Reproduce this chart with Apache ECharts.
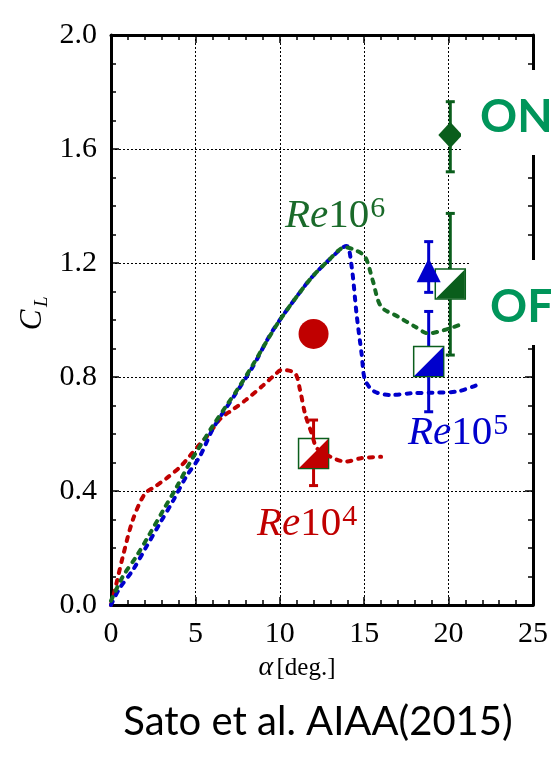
<!DOCTYPE html>
<html>
<head>
<meta charset="utf-8">
<script src="https://cdn.jsdelivr.net/npm/echarts@6/dist/echarts.min.js"></script>
<style>
  html, body { margin: 0; padding: 0; background: #fff; }
  #main { width: 551px; height: 759px; }
</style>
</head>
<body>
<div id="main"></div>
<script>
// Re 1e4 (red dashed)
var alpha4 = [0, 0.3, 0.7, 1.3, 2.0, 2.6, 3.3, 4.1, 4.7, 5.2, 5.8, 6.5, 7.2, 8.0, 9.0, 9.75, 10.1, 10.9, 11.2, 11.5, 11.9, 12.2, 13.0, 13.9, 14.8, 16.0];
var cl4    = [0, 0.07, 0.17, 0.30, 0.39, 0.415, 0.445, 0.485, 0.525, 0.56, 0.60, 0.655, 0.685, 0.72, 0.77, 0.81, 0.825, 0.813, 0.754, 0.67, 0.60, 0.55, 0.52, 0.503, 0.515, 0.52];
// Re 1e5 (blue dashed)
var alpha5 = [0, 0.5, 1.3, 2.1, 2.9, 3.7, 4.45, 5.25, 6.0, 6.6, 7.4, 8.4, 9.35, 10.0, 11.1, 11.9, 12.9, 13.95, 14.25, 14.55, 14.85, 15.05, 15.6, 16.6, 17.8, 19.0, 20.5, 21.7];
var cl5    = [0, 0.058, 0.123, 0.205, 0.287, 0.368, 0.45, 0.52, 0.614, 0.672, 0.743, 0.836, 0.94, 1.0, 1.09, 1.15, 1.21, 1.26, 1.19, 1.02, 0.88, 0.79, 0.749, 0.737, 0.743, 0.745, 0.749, 0.772];
// Re 1e6 (green dashed)
var alpha6 = [0, 0.7, 1.5, 2.3, 3.1, 3.9, 4.65, 5.25, 6.0, 6.8, 7.6, 8.4, 9.15, 9.95, 11.1, 11.9, 12.9, 13.85, 14.45, 15.05, 15.5, 16.0, 17.0, 18.0, 18.8, 19.75, 20.9];
var cl6    = [0.015, 0.10, 0.17, 0.25, 0.333, 0.415, 0.497, 0.555, 0.626, 0.696, 0.766, 0.842, 0.918, 0.995, 1.09, 1.15, 1.21, 1.255, 1.246, 1.222, 1.14, 1.047, 1.012, 0.977, 0.953, 0.965, 0.988];

// experiment points
var redCircle   = [[12.0, 0.951]];
var halfSquares = [[12.0, 0.532, 0], [18.82, 0.854, 1], [20.1, 1.126, 2]];
var triangleBlue = [[18.82, 1.175]];
var diamondGreen = [[20.1, 1.649]];
// error bars: alpha, low, high, colour index
var errBars = [
  [12.0, 0.419, 0.649, 0],
  [18.82, 1.097, 1.275, 1],
  [18.82, 0.678, 1.03, 1],
  [20.1, 1.52, 1.766, 2],
  [20.1, 0.877, 1.374, 2]
];

var RED = '#c00000', BLUE = '#0000cc', GREEN = '#0a5e1c';
var COLORS = [RED, BLUE, GREEN];
var BORDERS = ['#e06060', '#6060ff', '#4a8a5a'];

function zip(a, b) {
  return a.map(function (v, i) { return [v, b[i]]; });
}

var chart = echarts.init(document.getElementById('main'));

var serif = '"Liberation Serif"';
function frameAxis(pos, isX, labels) {
  var ax = {
    type: 'value',
    position: pos,
    min: 0,
    max: isX ? 25 : 2.0,
    interval: isX ? 5 : 0.4,
    axisLine: { show: true, onZero: false, lineStyle: { color: '#000', width: 3 } },
    axisTick: { show: true, inside: true, length: 8, lineStyle: { color: '#000', width: 1.5 } },
    minorTick: { show: true, splitNumber: isX ? 5 : 4, length: 5, lineStyle: { color: '#000', width: 1.5 } },
    axisLabel: {
      show: labels,
      color: '#000',
      fontFamily: 'Liberation Serif',
      fontSize: 30,
      margin: 14,
      formatter: isX ? function (v) { return String(v); } : function (v) { return v.toFixed(1); }
    },
    splitLine: { show: labels, lineStyle: { color: '#000', width: 1, type: [2, 2] } }
  };
  return ax;
}

var lineStyleOf = function (c) {
  return { color: c, width: 4, type: [4, 7], cap: 'round' };
};

// measure text so the superscript sits right after "Re10"
var mctx = document.createElement('canvas').getContext('2d');
function textW(font, s) { mctx.font = font; return mctx.measureText(s).width; }

function reLabel(x, y, sup, color) {
  var fi = 'italic 41px ' + serif, fn = '41px ' + serif;
  var w = textW(fi, 'Re') + textW(fn, '10');
  return [
    { type: 'text', z: 101, x: x, y: y, style: { text: 'Re', font: fi, fill: color, verticalAlign: 'middle' } },
    { type: 'text', z: 101, x: x + textW(fi, 'Re'), y: y, style: { text: '10', font: fn, fill: color, verticalAlign: 'middle' } },
    { type: 'text', z: 101, x: x + w + 1, y: y - 7, style: { text: sup, font: '30px ' + serif, fill: color, verticalAlign: 'middle' } }
  ];
}

var graphics = [
  // white boxes behind ON / OFF
  { type: 'rect', z: 100, shape: { x: 461, y: 70, width: 90, height: 85 }, style: { fill: '#fff' } },
  { type: 'rect', z: 100, shape: { x: 471, y: 260, width: 80, height: 85 }, style: { fill: '#fff' } },
  { type: 'text', z: 101, left: 480, top: 94, style: { text: 'ON', fill: '#00955a', font: 'bold 46px Lato' } },
  { type: 'text', z: 101, left: 490, top: 284, style: { text: 'OFF', fill: '#00955a', font: 'bold 46px Lato' } },
  // axis names
  { type: 'text', z: 101, x: 297, y: 668, style: { text: '{a|\u03b1} {n|[deg.]}', align: 'center', verticalAlign: 'middle', rich: {
    a: { font: 'italic 28px ' + serif, fill: '#000' },
    n: { font: '25px ' + serif, fill: '#000' } } } },
  {
    type: 'group', x: 33, y: 320, rotation: Math.PI / 2, z: 101,
    children: [
      { type: 'text', x: 0, y: 0, style: { text: 'C', font: 'italic 31px ' + serif, fill: '#000', align: 'center', verticalAlign: 'middle' } },
      { type: 'text', x: 13, y: 9, style: { text: 'L', font: 'italic 19px ' + serif, fill: '#000', align: 'left', verticalAlign: 'middle' } }
    ]
  },
  // citation
  { type: 'text', z: 101, x: 318, y: 722, style: { text: 'Sato et al. AIAA(2015)', font: '40px Lato', fill: '#000', align: 'center', verticalAlign: 'middle' } }
]
  .concat(reLabel(285, 216, '6', '#1a6a2a'))
  .concat(reLabel(408, 433, '5', BLUE))
  .concat(reLabel(257, 524, '4', RED));

var option = {
  animation: false,
  grid: { left: 111, right: 15, top: 35, bottom: 154 },
  xAxis: [frameAxis('bottom', true, true), frameAxis('top', true, false)],
  yAxis: [frameAxis('left', false, true), frameAxis('right', false, false)],
  series: [
    { type: 'line', data: zip(alpha4, cl4), smooth: 0.3, showSymbol: false, lineStyle: lineStyleOf(RED) },
    { type: 'line', data: zip(alpha5, cl5), smooth: 0.3, showSymbol: false, lineStyle: lineStyleOf(BLUE) },
    { type: 'line', data: zip(alpha6, cl6), smooth: 0.3, showSymbol: false, lineStyle: lineStyleOf('#156b23') },
    {
      type: 'custom',
      data: errBars,
      renderItem: function (params, api) {
        var x = api.value(0);
        var lo = api.coord([x, api.value(1)]);
        var hi = api.coord([x, api.value(2)]);
        var c = COLORS[api.value(3)];
        var st = { stroke: c, lineWidth: 3 };
        var w = 4.5;
        return {
          type: 'group',
          children: [
            { type: 'line', shape: { x1: lo[0], y1: lo[1], x2: hi[0], y2: hi[1] }, style: st },
            { type: 'line', shape: { x1: lo[0] - w, y1: lo[1], x2: lo[0] + w, y2: lo[1] }, style: st },
            { type: 'line', shape: { x1: hi[0] - w, y1: hi[1], x2: hi[0] + w, y2: hi[1] }, style: st }
          ]
        };
      }
    },
    { type: 'scatter', data: redCircle, symbol: 'circle', symbolSize: 30, itemStyle: { color: RED, opacity: 1 } },
    {
      type: 'scatter', data: halfSquares, symbol: 'rect', symbolSize: 30,
      itemStyle: {
        color: '#fff', opacity: 1, borderWidth: 1.5,
        borderColor: function (p) { return BORDERS[p.value[2]]; }
      }
    },
    {
      type: 'scatter', data: halfSquares, symbol: 'path://M1 0L1 1L0 1Z', symbolSize: 29,
      itemStyle: { opacity: 1, color: function (p) { return COLORS[p.value[2]]; } }
    },
    { type: 'scatter', data: triangleBlue, symbol: 'triangle', symbolSize: 24, itemStyle: { color: BLUE, opacity: 1 } },
    { type: 'scatter', data: diamondGreen, symbol: 'diamond', symbolSize: [24, 26], itemStyle: { color: GREEN, opacity: 1 } }
  ],
  graphic: graphics
};

chart.setOption(option);
</script>
</body>
</html>
